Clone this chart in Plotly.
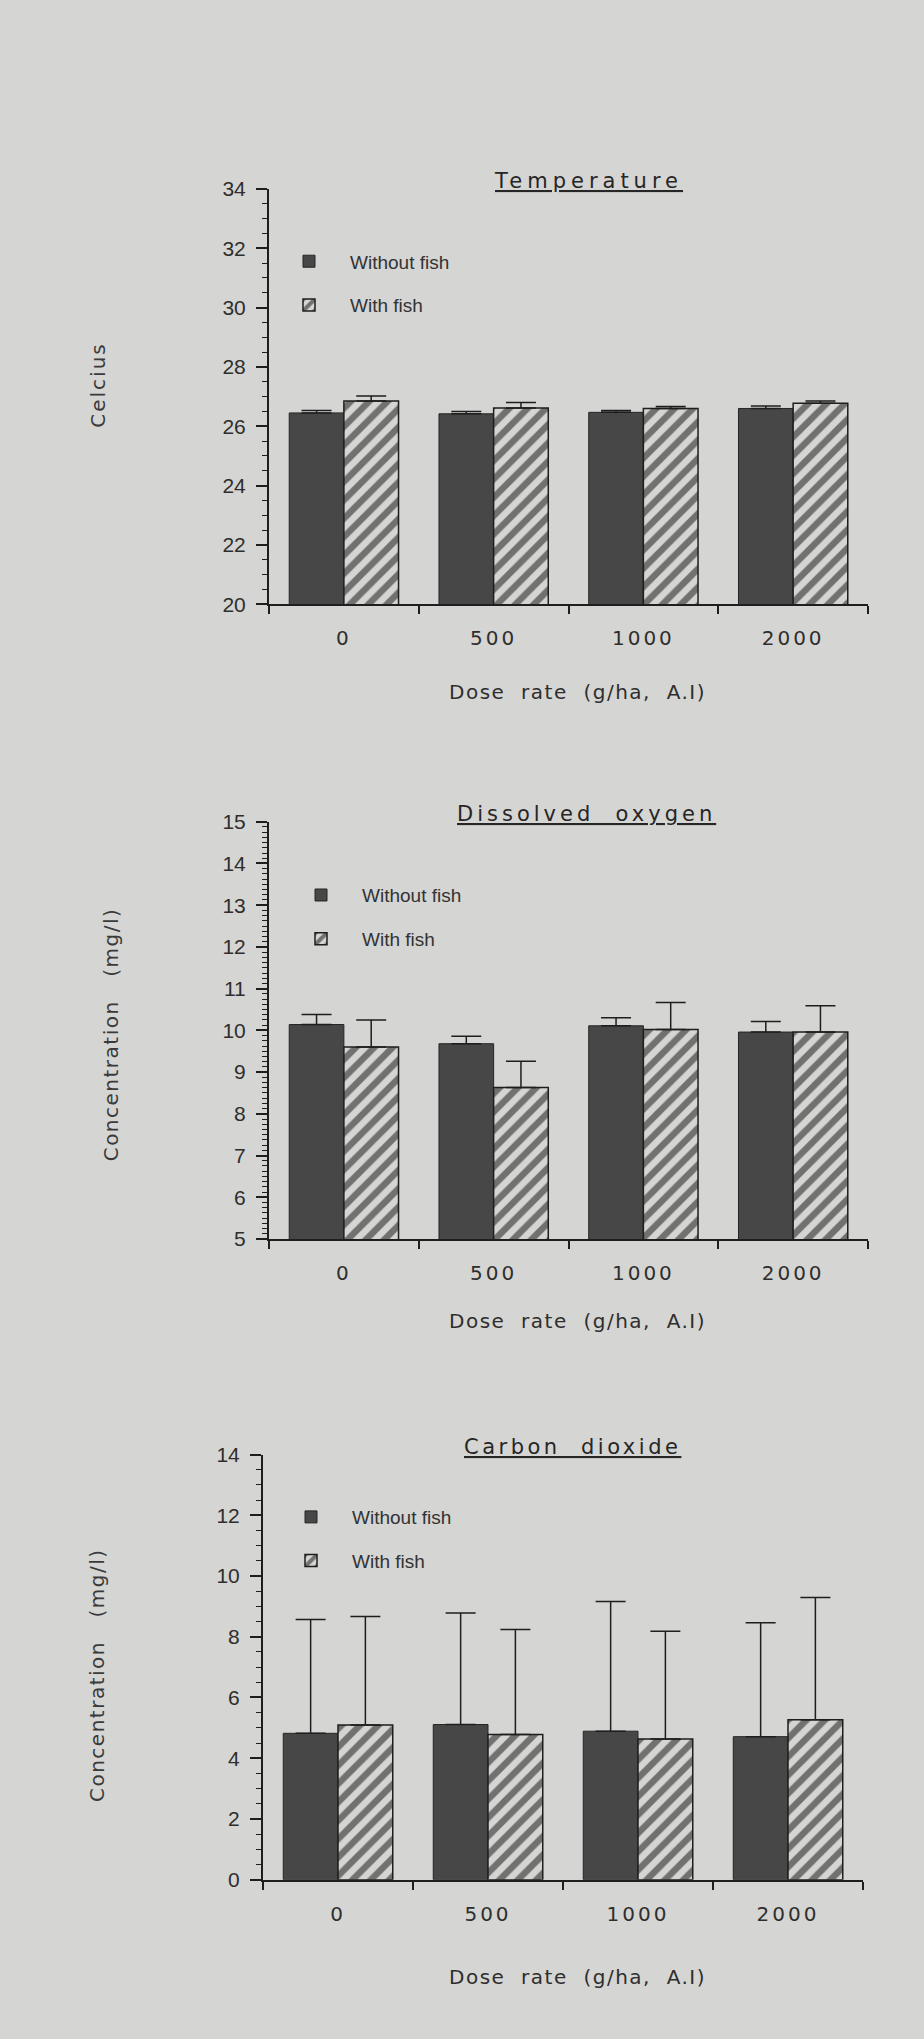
import plotly.graph_objects as go

# ---------------- data ----------------
doses = ["0", "500", "1000", "2000"]
series_names = ["Without fish", "With fish"]

temp_without = [26.45, 26.42, 26.47, 26.60]
temp_without_err = [0.08, 0.08, 0.06, 0.08]
temp_with = [26.85, 26.62, 26.60, 26.78]
temp_with_err = [0.17, 0.18, 0.07, 0.07]

do_without = [10.14, 9.68, 10.11, 9.96]
do_without_err = [0.24, 0.18, 0.19, 0.25]
do_with = [9.60, 8.63, 10.02, 9.96]
do_with_err = [0.65, 0.63, 0.65, 0.63]

co2_without = [4.82, 5.11, 4.89, 4.71]
co2_without_err = [3.75, 3.67, 4.27, 3.75]
co2_with = [5.09, 4.78, 4.63, 5.27]
co2_with_err = [3.58, 3.46, 3.55, 4.02]

panel_titles = ["Temperature", "Dissolved\u00a0\u00a0oxygen", "Carbon\u00a0\u00a0dioxide"]
y_titles = ["Celcius", "Concentration\u00a0\u00a0\u00a0(mg/l)", "Concentration\u00a0\u00a0\u00a0(mg/l)"]
x_title = "Dose\u00a0\u00a0rate\u00a0\u00a0(g/ha,\u00a0\u00a0A.I)"

# ---------------- layout constants ----------------
W, H = 924, 2039
PAGE = "#d5d5d3"
INK = "#1e1e1e"


def xp(px):
    return px / W


def yp(py):
    return 1 - py / H


def spaced(text, px):
    return f'<span style="letter-spacing:{px}px">{text}</span>'


panels = [
    dict(vals=(temp_without, temp_with), errs=(temp_without_err, temp_with_err),
         x0=269, x1=868, y0=179, y1=599, yr=[20, 34], dtick=2, minor=0.5,
         ylab_x=98, ylab_y=378, xlab_y=688, title_sp=5, title_x=588,
         leg=(268, 233)),
    dict(vals=(do_without, do_with), errs=(do_without_err, do_with_err),
         x0=269, x1=868, y0=819, y1=1241, yr=[5, 15], dtick=1, minor=0.125,
         ylab_x=111, ylab_y=1034, xlab_y=1324, title_sp=4, title_x=586,
         leg=(280, 874)),
    dict(vals=(co2_without, co2_with), errs=(co2_without_err, co2_with_err),
         x0=263, x1=863, y0=1459, y1=1889, yr=[0, 14], dtick=2, minor=0.5,
         ylab_x=97, ylab_y=1682, xlab_y=1987, title_sp=3.5, title_x=572,
         leg=(270, 1503)),
]

fig = go.Figure()
annotations = []
legend_names = ["legend", "legend2", "legend3"]
legends = {}

for i, p in enumerate(panels):
    ax = "" if i == 0 else str(i + 1)
    xa, ya = "x" + ax, "y" + ax
    for j in range(2):
        if j == 0:
            marker = dict(color="#474747", line=dict(color="#262626", width=1))
        else:
            marker = dict(color=PAGE,
                          pattern=dict(shape="/", fgcolor="#0e0e0e", bgcolor=PAGE,
                                       size=13, solidity=0.5),
                          line=dict(color=INK, width=1.5))
        fig.add_trace(go.Bar(
            x=doses, y=p["vals"][j], name=series_names[j],
            xaxis=xa, yaxis=ya, marker=marker,
            error_y=dict(type="data", symmetric=False, array=p["errs"][j],
                         arrayminus=[0] * len(doses), color=INK,
                         thickness=1.5, width=15),
            legend=legend_names[i], legendgroup=f"p{i}s{j}", showlegend=True,
        ))

    xkey = "xaxis" + ax
    ykey = "yaxis" + ax
    fig.layout[xkey] = dict(
        domain=[xp(p["x0"]), xp(p["x1"])], anchor=ya, type="category",
        range=[-0.5, 3.5], tickson="boundaries", ticks="outside", ticklen=8,
        tickwidth=1.5, tickcolor=INK, showline=True, linecolor=INK, linewidth=2,
        showgrid=False, zeroline=False, ticklabelstandoff=15,
        tickmode="array", tickvals=doses, ticktext=[spaced(d, 3) for d in doses],
        tickfont=dict(family="DejaVu Sans", size=20, color="#2e2e2e"),
    )
    fig.layout[ykey] = dict(
        domain=[yp(p["y1"]), yp(p["y0"])], anchor=xa, range=p["yr"],
        dtick=p["dtick"], tick0=0, ticks="outside", ticklen=11, tickwidth=1.5,
        tickcolor=INK, showline=True, linecolor=INK, linewidth=2,
        showgrid=False, zeroline=False, ticklabelstandoff=6,
        tickfont=dict(family="Liberation Sans", size=21, color="#2e2e2e"),
        minor=dict(dtick=p["minor"], ticks="outside", ticklen=5, tickwidth=1.2,
                   tickcolor=INK, showgrid=False),
    )

    # panel title (underlined)
    annotations.append(dict(
        text="<u>" + spaced(panel_titles[i], p["title_sp"]) + "</u>",
        xref="paper", yref="paper",
        x=xp(p["title_x"]), y=yp(p["y0"] - 8), xanchor="center", yanchor="middle",
        showarrow=False, font=dict(family="DejaVu Sans", size=21, color="#262626"),
    ))
    # y-axis title
    annotations.append(dict(
        text=spaced(y_titles[i], 1.5 if i else 2), xref="paper", yref="paper",
        x=xp(p["ylab_x"]), y=yp(p["ylab_y"]), textangle=-90,
        xanchor="center", yanchor="middle", showarrow=False,
        font=dict(family="DejaVu Sans", size=20, color="#3a3a3a"),
    ))
    # x-axis title
    annotations.append(dict(
        text=spaced(x_title, 1.5), xref="paper", yref="paper",
        x=xp(577), y=yp(p["xlab_y"]), xanchor="center", yanchor="middle",
        showarrow=False, font=dict(family="DejaVu Sans", size=20, color="#2e2e2e"),
    ))

    legends[legend_names[i]] = dict(
        x=xp(p["leg"][0]), y=yp(p["leg"][1]),
        xanchor="left", yanchor="top", bgcolor="rgba(0,0,0,0)", borderwidth=0,
        font=dict(family="Liberation Sans", size=19, color="#333333"),
        tracegroupgap=16, itemwidth=72,
    )

fig.update_layout(
    width=W, height=H, autosize=False,
    margin=dict(l=0, r=0, t=0, b=0),
    paper_bgcolor=PAGE, plot_bgcolor="rgba(0,0,0,0)",
    barmode="group", bargap=0.27, bargroupgap=0.0,
    annotations=annotations,
    **legends,
)

fig.write_html("out.html")
